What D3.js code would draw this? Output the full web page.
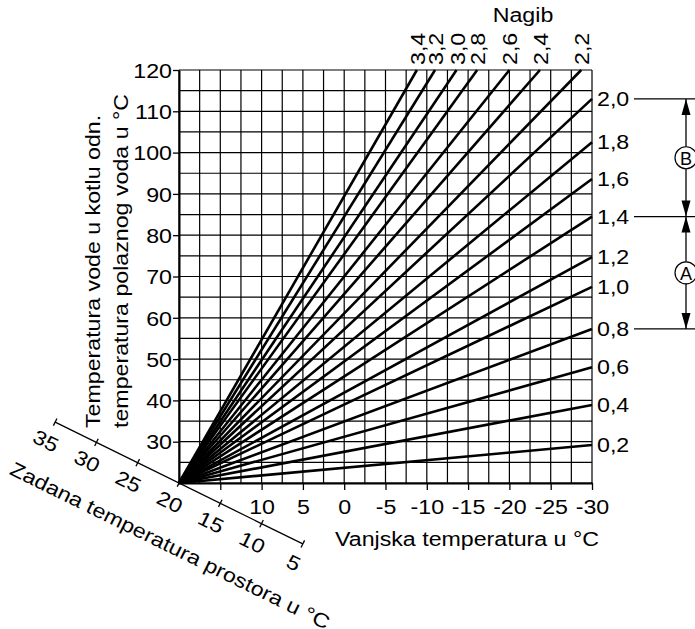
<!DOCTYPE html>
<html><head><meta charset="utf-8">
<script src="https://cdn.jsdelivr.net/npm/d3@7"></script>
<style>
body{margin:0;background:#fff}
svg{display:block}
text{font-family:"Liberation Sans",Arial,sans-serif;fill:#000}
</style>
</head><body>
<svg id="c" width="695" height="629"></svg>
<script>
// ---- data ----
const outsideTicks = [15, 10, 5, 0, -5, -10, -15, -20, -25, -30];
const flowTicks = [30, 40, 50, 60, 70, 80, 90, 100, 110, 120];
const roomTicks = [35, 30, 25, 20, 15, 10, 5];
const sideSlopes = ["0,2", "0,4", "0,6", "0,8", "1,0", "1,2", "1,4", "1,6", "1,8", "2,0"];
const sideFlowAtMinus30 = [29.2, 38.9, 48.0, 57.3, 67.5, 74.7, 84.5, 93.6, 102.5, 113.0];
const topSlopes = ["2,2", "2,4", "2,6", "2,8", "3,0", "3,2", "3,4"];
const topOutsideAt120 = [-28.7, -23.7, -20.0, -16.1, -13.6, -11.0, -8.8];
const rangeLabels = ["A", "B"];
const rangeBounds = [["0,8", "1,4"], ["1,4", "2,0"]];
const texts = {
  yTitle1: "Temperatura vode u kotlu odn.",
  yTitle2: "temperatura polaznog voda u °C",
  xTitle: "Vanjska temperatura u °C",
  roomTitle: "Zadana temperatura prostora u °C",
  slopeTitle: "Nagib"
};

// ---- setup ----
const SX = 1.16, FS = 20;
const svg = d3.select("#c");
const x = d3.scaleLinear().domain([20, -30]).range([179, 592]);
const y = d3.scaleLinear().domain([20, 120]).range([483, 70]);

function stext(g, t, px, py, opts = {}) {
  const rot = opts.rotate || 0;
  return g.append("text")
    .attr("transform", `translate(${px},${py}) rotate(${rot}) scale(${SX},1)`)
    .attr("text-anchor", opts.anchor || "start")
    .attr("dy", opts.dy == null ? "0.35em" : opts.dy)
    .style("font-size", (opts.size || FS) + "px")
    .text(t);
}

// grid
const grid = svg.append("g").attr("stroke", "#000").attr("stroke-width", 1.2);
grid.selectAll("line.v").data(d3.range(20, -30.01, -2.5)).join("line")
  .attr("x1", d => x(d)).attr("x2", d => x(d)).attr("y1", y(20)).attr("y2", y(120));
grid.selectAll("line.h").data(d3.range(20, 120.01, 5)).join("line")
  .attr("y1", d => y(d)).attr("y2", d => y(d)).attr("x1", x(20)).attr("x2", x(-30));

// axes
const yAxis = d3.axisLeft(y).tickValues(flowTicks).tickSize(6).tickSizeOuter(0).tickFormat(d => String(d));
const gy = svg.append("g").attr("transform", `translate(${x(20)},0)`).call(yAxis);
gy.select(".domain").attr("stroke", "#000").attr("stroke-width", 2);
gy.selectAll(".tick line").attr("stroke", "#000").attr("stroke-width", 1.3);
gy.selectAll(".tick text").attr("x", null).attr("dy", null)
  .attr("transform", `translate(-7,0) scale(${SX},1)`).attr("dy", "0.36em")
  .style("font-size", FS + "px").attr("font-family", null);

const xAxis = d3.axisBottom(x).tickValues(outsideTicks).tickSize(7).tickSizeOuter(0)
  .tickFormat(d => d === 15 ? "" : String(d));
const gx = svg.append("g").attr("transform", `translate(0,${y(20)})`).call(xAxis);
gx.select(".domain").attr("stroke", "#000").attr("stroke-width", 1.8);
gx.selectAll(".tick line").attr("stroke", "#000").attr("stroke-width", 1.3);
gx.selectAll(".tick text").attr("y", null).attr("dy", null)
  .attr("transform", `translate(0,24) scale(${SX},1)`).attr("dy", "0.35em")
  .style("font-size", FS + "px").attr("font-family", null);

// heating curves
const line = d3.line().x(d => x(d[0])).y(d => y(d[1]));
const curves = svg.append("g").attr("fill", "none").attr("stroke", "#000").attr("stroke-width", 2.6);
sideSlopes.forEach((s, i) => curves.append("path").attr("d", line([[20, 20], [-30, sideFlowAtMinus30[i]]])));
topSlopes.forEach((s, i) => curves.append("path").attr("d", line([[20, 20], [topOutsideAt120[i], 120]])));

// curve labels
const lab = svg.append("g");
sideSlopes.forEach((s, i) => stext(lab, s, x(-30) + 5, y(sideFlowAtMinus30[i])));
topSlopes.forEach((s, i) => stext(lab, s, x(topOutsideAt120[i]) + 1, y(120) - 5, {rotate: -90}));
stext(lab, texts.slopeTitle, 523, 15, {anchor: "middle"});

// axis titles
stext(svg, texts.yTitle1, 93, 428, {rotate: -90});
stext(svg, texts.yTitle2, 121, 428, {rotate: -90});
stext(svg, texts.xTitle, 335, 539);

// room-temperature (set point) axis
const ang = 26.2 * Math.PI / 180;
const ux = Math.cos(ang), uy = Math.sin(ang);
const nx = -uy, ny = ux;
const ox = x(20), oy = y(20);
const r = d3.scaleLinear().domain([20, 5]).range([0, 138]);
const pt = (v, n = 0) => [ox + r(v) * ux + n * nx, oy + r(v) * uy + n * ny];
const ra = svg.append("g").attr("stroke", "#000").attr("stroke-width", 1.3);
ra.append("line").attr("x1", pt(35)[0]).attr("y1", pt(35)[1]).attr("x2", pt(5)[0]).attr("y2", pt(5)[1]);
ra.selectAll("line.t").data(roomTicks).join("line")
  .attr("x1", d => pt(d, -4)[0]).attr("y1", d => pt(d, -4)[1])
  .attr("x2", d => pt(d, 4)[0]).attr("y2", d => pt(d, 4)[1]);
const rl = svg.append("g");
roomTicks.forEach(v => { const p = pt(v, 21); stext(rl, String(v), p[0], p[1], {rotate: 26.2, anchor: "middle"}); });
(() => { const p = [ox + (-157) * ux + 60 * nx, oy + (-157) * uy + 60 * ny];
  stext(svg, texts.roomTitle, p[0], p[1], {rotate: 26.2}); })();

// range brackets A / B
const endY = lbl => y(sideFlowAtMinus30[sideSlopes.indexOf(lbl)]);
const br = svg.append("g");
const bx = 686;
["0,8", "1,4", "2,0"].forEach(l => br.append("line").attr("x1", 634).attr("x2", 700)
  .attr("y1", endY(l)).attr("y2", endY(l)).attr("stroke", "#000").attr("stroke-width", 1.3));
rangeLabels.forEach((L, i) => {
  const yLo = endY(rangeBounds[i][0]), yHi = endY(rangeBounds[i][1]);
  br.append("line").attr("x1", bx).attr("x2", bx).attr("y1", yHi).attr("y2", yLo)
    .attr("stroke", "#000").attr("stroke-width", 1.3);
  br.append("path").attr("d", `M${bx},${yHi} l-4.5,16 l9,0 Z`).attr("fill", "#000");
  br.append("path").attr("d", `M${bx},${yLo} l-4.5,-16 l9,0 Z`).attr("fill", "#000");
  const cy = (yLo + yHi) / 2;
  br.append("circle").attr("cx", bx).attr("cy", cy).attr("r", 11)
    .attr("fill", "#fff").attr("stroke", "#000").attr("stroke-width", 1.2);
  br.append("text").attr("x", bx).attr("y", cy + 1).attr("dy", "0.35em")
    .attr("text-anchor", "middle").style("font-size", "18px").text(L);
});
</script>
</body></html>
